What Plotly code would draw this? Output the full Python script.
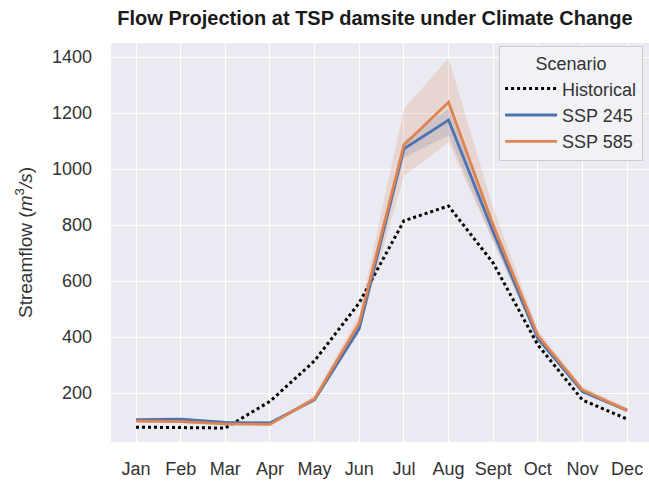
import plotly.graph_objects as go

# Monthly streamflow (m^3/s) at the TSP damsite
months = ["Jan", "Feb", "Mar", "Apr", "May", "Jun", "Jul", "Aug", "Sept", "Oct", "Nov", "Dec"]
historical = [78, 76, 75, 170, 315, 522, 815, 868, 664, 372, 175, 107]

ssp245 = [105, 107, 95, 93, 176, 430, 1072, 1175, 775, 395, 205, 138]
ssp245_lo = [101, 103, 91, 89, 170, 415, 1040, 1120, 745, 385, 199, 133]
ssp245_hi = [109, 111, 99, 97, 182, 445, 1100, 1215, 805, 405, 211, 143]

ssp585 = [100, 98, 90, 88, 180, 450, 1086, 1238, 800, 405, 211, 138]
ssp585_lo = [95, 93, 85, 83, 170, 420, 975, 1095, 740, 385, 200, 130]
ssp585_hi = [105, 103, 95, 93, 192, 480, 1215, 1396, 860, 425, 222, 147]

x = list(range(len(months)))
BLUE = "#4C72B0"
ORANGE = "#DD8452"
FONT = "Liberation Sans, Arial, sans-serif"
TEXT = "#333333"

fig = go.Figure()


def band(lo, hi, fill):
    fig.add_trace(go.Scatter(x=x, y=hi, mode="lines", line=dict(width=0),
                             showlegend=False, hoverinfo="skip"))
    fig.add_trace(go.Scatter(x=x, y=lo, mode="lines", line=dict(width=0),
                             fill="tonexty", fillcolor=fill,
                             showlegend=False, hoverinfo="skip"))


band(ssp245_lo, ssp245_hi, "rgba(76,114,176,0.2)")
band(ssp585_lo, ssp585_hi, "rgba(221,132,82,0.2)")

fig.add_trace(go.Scatter(x=x, y=historical, mode="lines", name="Historical",
                         line=dict(color="black", width=3, dash="dot")))
fig.add_trace(go.Scatter(x=x, y=ssp245, mode="lines", name="SSP 245",
                         line=dict(color=BLUE, width=2.8)))
fig.add_trace(go.Scatter(x=x, y=ssp585, mode="lines", name="SSP 585",
                         line=dict(color=ORANGE, width=2.8)))

fig.update_layout(
    width=649, height=485,
    margin=dict(l=111, r=0, t=43, b=43),
    paper_bgcolor="white",
    plot_bgcolor="#EAEAF2",
    font=dict(family=FONT, size=18, color=TEXT),
    title=dict(text="<b>Flow Projection at TSP damsite under Climate Change</b>",
               x=(375 / 649), xanchor="center", y=0.962, yanchor="middle",
               font=dict(size=20, color="#1a1a1a")),
    xaxis=dict(tickmode="array", tickvals=x, ticktext=months,
               range=[-0.56, 11.49], showgrid=True, gridcolor="white",
               gridwidth=1.2, zeroline=False, showline=False, ticks="",
               ticklabelstandoff=14,
               tickfont=dict(size=18, color=TEXT)),
    yaxis=dict(range=[25, 1450], tickvals=[200, 400, 600, 800, 1000, 1200, 1400],
               showgrid=True, gridcolor="white", gridwidth=1.2, zeroline=False,
               showline=False, ticks="", ticklabelstandoff=18,
               tickfont=dict(size=18, color=TEXT),
               title=dict(text="Streamflow (<i>m</i><sup>3</sup><i>/s</i>)",
                          font=dict(size=19, color=TEXT), standoff=14)),
    legend=dict(x=0.989, xanchor="right", y=0.9925, yanchor="top",
                traceorder="normal",
                bgcolor="rgba(242,242,246,0.92)", bordercolor="#cccccc",
                borderwidth=1, font=dict(size=18, color=TEXT),
                title=dict(text="Scenario", side="top center",
                           font=dict(size=18, color=TEXT)),
                itemwidth=52, tracegroupgap=0),
    showlegend=True,
)

fig.write_html("out.html")
